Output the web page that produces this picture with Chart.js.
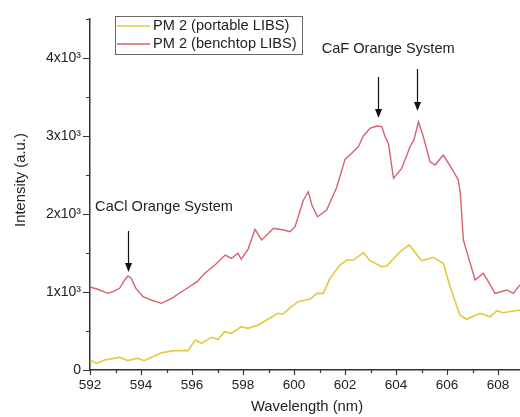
<!DOCTYPE html>
<html>
<head>
<meta charset="utf-8">
<script src="https://cdn.jsdelivr.net/npm/chart.js@4.4.1/dist/chart.umd.min.js"></script>
<style>
  html, body { margin: 0; padding: 0; background: #fff; }
  #wrap { width: 520px; height: 417px; position: relative; }
</style>
</head>
<body>
<div id="wrap"><canvas id="spec" width="520" height="417"></canvas></div>
<script>
// benchtop LIBS (red)
var benchWl = [592.0, 592.3, 592.7, 592.9, 593.16, 593.36, 593.49, 593.62, 593.8, 594.08, 594.4, 594.8, 595.2, 595.7,
  596.2, 596.5, 596.9, 597.3, 597.55, 597.8, 597.93, 598.2, 598.47, 598.73, 599.2, 599.6, 599.84, 600.04, 600.37,
  600.56, 600.7, 600.92, 601.28, 601.67, 602.0, 602.26, 602.52, 602.72, 602.98, 603.24, 603.44, 603.57, 603.7, 603.9,
  604.22, 604.55, 604.7, 604.88, 605.07, 605.33, 605.53, 605.85, 606.18, 606.44, 606.52, 606.64, 606.83, 607.1,
  607.42, 607.62, 607.88, 608.34, 608.6, 608.86];
var benchInt = [1064, 1035, 983, 1004, 1047, 1154, 1205, 1175, 1047, 940, 897, 855, 919, 1026,
  1132, 1240, 1346, 1474, 1432, 1496, 1420, 1550, 1803, 1667, 1816, 1795, 1773, 1837, 2180,
  2286, 2115, 1965, 2051, 2340, 2700, 2778, 2863, 3000, 3098, 3128, 3120, 2991, 2906, 2457,
  2585, 2863, 2950, 3183, 2991, 2670, 2628, 2756, 2585, 2436, 2265, 1667, 1453, 1154,
  1240, 1132, 983, 1026, 983, 1090];

// portable LIBS (yellow)
var portWl = [592.0, 592.25, 592.57, 593.16, 593.49, 593.88, 594.12, 594.8, 595.3, 595.84, 596.13, 596.37, 596.76,
  597.02, 597.28, 597.54, 597.93, 598.2, 598.59, 598.98, 599.37, 599.57, 599.9, 600.16, 600.63, 600.89, 601.15,
  601.41, 601.8, 602.07, 602.33, 602.72, 602.98, 603.44, 603.63, 604.16, 604.52, 605.0, 605.46, 605.85, 606.12,
  606.5, 606.77, 607.29, 607.69, 607.95, 608.2, 608.86];
var portInt = [128, 85, 128, 162, 120, 150, 120, 222, 248, 248, 385, 342, 419,
  393, 491, 470, 555, 534, 577, 650, 727, 718, 812, 876, 910, 983, 983,
  1175, 1346, 1410, 1410, 1504, 1401, 1325, 1333, 1517, 1603, 1401, 1445, 1368, 1068,
  705, 650, 727, 683, 760, 735, 769];

var seriesNames = ['PM 2 (portable LIBS)', 'PM 2 (benchtop LIBS)'];
var xTicks = [592, 594, 596, 598, 600, 602, 604, 606, 608];
var yTicks = [0, 1000, 2000, 3000, 4000];

var FONT = "'Liberation Sans', Arial, sans-serif";

function pairs(xs, ys) {
  return xs.map(function (x, i) { return { x: x, y: ys[i] }; });
}

// text + arrows drawn in data coordinates
var notes = [
  { text: 'CaCl Orange System', x: 592.2, y: 2090, align: 'left' },
  { text: 'CaF Orange System', x: 603.69, y: 4115, align: 'center' }
];
var arrows = [
  { x: 593.5, from: 1782, to: 1256 },
  { x: 603.28, from: 3756, to: 3231 },
  { x: 604.81, from: 3859, to: 3321 }
];

var extras = {
  id: 'extras',
  afterDraw: function (chart) {
    var ctx = chart.ctx;
    var xs = chart.scales.x, ys = chart.scales.y;
    var area = chart.chartArea;
    ctx.save();

    // tick marks (major + minor)
    ctx.strokeStyle = '#333';
    ctx.lineWidth = 1.2;
    ctx.beginPath();
    for (var v = 592; v <= 608; v++) {
      var px = Math.round(xs.getPixelForValue(v)) + 0.5;
      var len = (v % 2 === 0) ? 5 : 3;
      ctx.moveTo(px, area.bottom);
      ctx.lineTo(px, area.bottom + len);
    }
    for (var w = 0; w <= 4500; w += 500) {
      var py = Math.round(ys.getPixelForValue(w)) + 0.5;
      var l2 = (w % 1000 === 0) ? 7 : 4;
      ctx.moveTo(area.left - l2, py);
      ctx.lineTo(area.left, py);
    }
    ctx.stroke();

    // axis titles
    ctx.fillStyle = '#222';
    ctx.font = '14.8px ' + FONT;
    ctx.textAlign = 'center';
    ctx.textBaseline = 'middle';
    ctx.fillText('Wavelength (nm)', (area.left + area.right) / 2 + 2, 407);
    ctx.save();
    ctx.translate(21, 180);
    ctx.rotate(-Math.PI / 2);
    ctx.fillText('Intensity (a.u.)', 0, 0);
    ctx.restore();

    // annotations
    ctx.font = '14.6px ' + FONT;
    notes.forEach(function (n) {
      ctx.textAlign = n.align;
      ctx.fillText(n.text, xs.getPixelForValue(n.x), ys.getPixelForValue(n.y));
    });
    ctx.strokeStyle = '#111';
    ctx.fillStyle = '#111';
    ctx.lineWidth = 1.2;
    arrows.forEach(function (a) {
      var ax = Math.round(xs.getPixelForValue(a.x)) + 0.5;
      var y0 = ys.getPixelForValue(a.from), y1 = ys.getPixelForValue(a.to);
      ctx.beginPath();
      ctx.moveTo(ax, y0);
      ctx.lineTo(ax, y1 - 6);
      ctx.stroke();
      ctx.beginPath();
      ctx.moveTo(ax - 3.5, y1 - 9);
      ctx.lineTo(ax + 3.5, y1 - 9);
      ctx.lineTo(ax, y1);
      ctx.closePath();
      ctx.fill();
    });

    // legend box
    ctx.strokeStyle = '#666';
    ctx.lineWidth = 1;
    ctx.strokeRect(115.5, 16.5, 187, 38);
    ctx.textAlign = 'left';
    ctx.fillStyle = '#222';
    ctx.font = '14.6px ' + FONT;
    chart.data.datasets.forEach(function (ds, i) {
      var ly = 26 + i * 18;
      ctx.strokeStyle = ds.borderColor;
      ctx.lineWidth = 1.5;
      ctx.beginPath();
      ctx.moveTo(117, ly);
      ctx.lineTo(150, ly);
      ctx.stroke();
      ctx.fillText(ds.label, 153, ly);
    });
    ctx.restore();
  }
};

var spectrumChart = new Chart('spec', {
  type: 'line',
  data: {
    datasets: [{
      label: seriesNames[0],
      data: pairs(portWl, portInt),
      borderColor: 'rgb(228, 200, 62)',
      borderWidth: 1.6,
      pointRadius: 0,
      tension: 0
    }, {
      label: seriesNames[1],
      data: pairs(benchWl, benchInt),
      borderColor: 'rgb(214, 98, 110)',
      borderWidth: 1.4,
      pointRadius: 0,
      tension: 0
    }]
  },
  options: {
    responsive: false,
    animation: false,
    layout: { padding: { top: 19, right: 0, left: 0, bottom: 0 } },
    plugins: { legend: { display: false }, tooltip: { enabled: false } },
    scales: {
      x: {
        type: 'linear',
        min: 592,
        max: 608.86,
        afterFit: function (s) { s.height = 47; },
        afterBuildTicks: function (s) { s.ticks = xTicks.map(function (v) { return { value: v }; }); },
        grid: { display: false, drawTicks: false },
        border: { display: true, color: '#333', width: 1.5 },
        ticks: { color: '#222', font: { family: FONT, size: 13.5 }, padding: 7, maxRotation: 0,
          callback: function (v) { return v; } }
      },
      y: {
        min: 0,
        max: 4500,
        afterFit: function (s) { s.width = 90; },
        afterBuildTicks: function (s) { s.ticks = yTicks.map(function (v) { return { value: v }; }); },
        grid: { display: false, drawTicks: false },
        border: { display: true, color: '#333', width: 1.5 },
        ticks: { color: '#222', font: { family: FONT, size: 14 }, padding: 9,
          callback: function (v) { return v === 0 ? '0' : (v / 1000) + 'x10\u00B3'; } }
      }
    }
  },
  plugins: [extras]
});
</script>
</body>
</html>
